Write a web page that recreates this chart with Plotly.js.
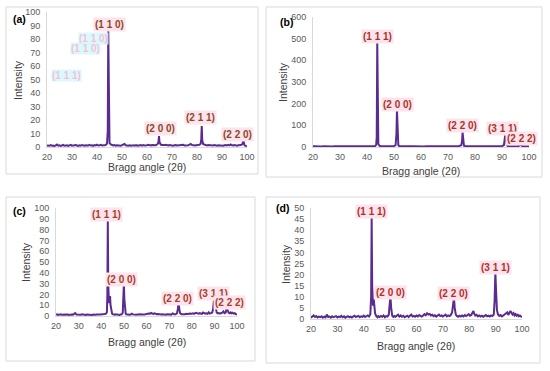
<!DOCTYPE html>
<html>
<head>
<meta charset="utf-8">
<script src="https://cdn.plot.ly/plotly-3.0.1.min.js"></script>
<style>html,body{margin:0;padding:0;background:#fff;}#chart{width:550px;height:371px;}</style>
</head>
<body>
<div id="chart"></div>
<script>
// ---- Data (2θ angle, intensity) ----
const xrdA = [[20,1.2],[20.5,0.8],[21,1.0],[21.5,1.4],[22,0.9],[22.5,1.1],[23,0.7],[23.5,1.3],[24,1.8],[24.5,1.0],[25,1.2],[25.5,0.8],[26,1.1],[26.5,1.5],[27,0.9],[27.5,1.0],[28,1.3],[28.5,0.8],[29,1.1],[29.5,1.6],[30,1.0],[30.5,1.2],[31,0.9],[31.5,1.4],[32,1.1],[32.5,0.8],[33,1.2],[33.5,1.0],[34,1.5],[34.5,1.1],[35,0.9],[35.5,1.3],[36,1.0],[36.5,1.2],[37,1.6],[37.5,1.1],[38,1.3],[38.5,0.9],[39,1.4],[39.5,1.2],[40,1.7],[40.5,1.1],[41,1.3],[41.5,1.6],[42,1.2],[42.5,1.4],[43,1.8],[43.5,1.5],[44,2.5],[44.3,12],[44.5,87],[44.7,14],[45,3],[45.5,2.0],[46,1.5],[46.5,1.2],[47,1.4],[47.5,1.0],[48,1.3],[48.5,1.1],[49,1.2],[49.5,0.9],[50,1.4],[50.5,1.6],[51,2.2],[51.5,1.3],[52,1.1],[52.5,1.0],[53,1.3],[53.5,0.9],[54,1.1],[54.5,1.2],[55,0.8],[55.5,1.0],[56,1.3],[56.5,0.9],[57,1.1],[57.5,1.4],[58,1.0],[58.5,1.5],[59,1.2],[59.5,1.1],[60,1.3],[60.5,1.6],[61,1.2],[61.5,1.1],[62,1.4],[62.5,1.2],[63,1.5],[63.5,1.3],[64,1.8],[64.4,2.6],[64.6,4],[64.8,8.1],[65.0,3.5],[65.5,1.8],[66,1.5],[66.5,1.2],[67,1.4],[67.5,1.6],[68,1.3],[68.5,1.1],[69,1.5],[69.5,1.2],[70,1.4],[70.5,1.0],[71,1.3],[71.5,1.5],[72,1.1],[72.5,1.2],[73,1.4],[73.5,1.0],[74,1.3],[74.5,1.6],[75,1.2],[75.5,1.1],[76,1.4],[76.5,1.3],[77,1.7],[77.5,2.2],[78,1.5],[78.5,1.3],[79,1.6],[79.5,1.2],[80,1.4],[80.5,1.3],[81,1.6],[81.5,2.5],[81.7,6],[81.9,15.6],[82.1,5],[82.5,2],[83,1.5],[83.5,1.3],[84,1.1],[84.5,1.4],[85,1.2],[85.5,1.0],[86,1.3],[86.5,1.1],[87,1.5],[87.5,1.2],[88,1.0],[88.5,1.3],[89,1.1],[89.5,1.4],[90,1.2],[90.5,0.9],[91,1.3],[91.5,1.5],[92,1.1],[92.5,1.6],[93,1.2],[93.5,1.9],[94,1.3],[94.5,1.1],[95,1.5],[95.5,1.2],[96,1.0],[96.5,1.3],[97,1.1],[97.5,1.4],[98,1.8],[98.3,3],[98.5,5.7],[98.7,2.5],[99,1.2],[99.5,0.8],[100,0.5]];

const xrdB = [[20,3],[21,2],[22,3],[23,2],[24,3],[25,2],[26,3],[27,2],[28,3],[29,3],[30,4],[31,3],[32,2],[33,3],[34,2],[35,3],[36,2],[37,3],[38,3],[39,2],[40,3],[41,3],[42,4],[43,5],[43.4,10],[43.6,45],[43.8,489],[44.0,70],[44.2,14],[44.6,6],[45,4],[46,3],[47,3],[48,2],[49,3],[50,4],[50.6,9],[50.9,60],[51.1,171],[51.3,45],[51.6,8],[52,4],[53,3],[54,3],[55,2],[56,3],[57,3],[58,2],[59,3],[60,3],[61,2],[62,3],[63,3],[64,2],[65,3],[66,3],[67,2],[68,3],[69,3],[70,2],[71,3],[72,3],[73,3],[74,4],[74.9,8],[75.2,25],[75.4,68],[75.6,22],[75.9,6],[76.5,4],[77,3],[78,3],[79,3],[80,2],[81,3],[82,3],[83,3],[84,2],[85,3],[86,3],[87,3],[88,3],[89,4],[90,4],[90.7,9],[91.0,40],[91.2,55],[91.35,42],[91.5,52],[91.7,12],[92.1,5],[93,4],[94,3],[95,3],[96,4],[96.6,8],[96.9,22],[97.1,9],[97.5,4],[98,3],[99,3],[100,3]];

const xrdC = [[20,1.2],[20.5,1.5],[21,1.0],[21.5,1.3],[22,1.6],[22.5,1.1],[23,1.4],[23.5,1.0],[24,1.3],[24.5,1.2],[25,1.5],[25.5,1.0],[26,1.3],[26.5,1.1],[27,1.4],[27.5,1.2],[28,1.6],[28.5,2.6],[29,1.3],[29.5,1.1],[30,1.4],[30.5,1.0],[31,1.2],[31.5,1.5],[32,1.1],[32.5,1.3],[33,1.0],[33.5,1.4],[34,1.2],[34.5,1.1],[35,1.5],[35.5,1.2],[36,1.0],[36.5,1.3],[37,1.6],[37.5,1.2],[38,1.4],[38.5,1.1],[39,1.5],[39.5,1.3],[40,1.6],[40.5,1.2],[41,1.5],[41.5,1.8],[42,2.0],[42.5,3.5],[42.7,20],[42.9,89],[43.1,30],[43.4,12],[43.7,17],[43.9,18.5],[44.1,10],[44.4,4],[44.8,2.2],[45.2,1.6],[45.5,1.4],[46,1.2],[46.5,1.5],[47,1.1],[47.5,1.3],[48,1.0],[48.5,1.4],[49,1.6],[49.5,3],[49.8,15],[50.0,30],[50.2,16],[50.5,3.5],[50.8,2],[51,1.6],[51.5,1.3],[52,1.5],[52.5,1.1],[53,1.4],[53.5,2.2],[54,1.5],[54.5,1.2],[55,1.4],[55.5,1.1],[56,1.3],[56.5,1.6],[57,1.2],[57.5,1.5],[58,1.3],[58.5,1.7],[59,1.4],[59.5,1.6],[60,2.0],[60.5,1.8],[61,2.4],[61.5,2.2],[62,2.8],[62.5,2.3],[63,2.0],[63.5,2.5],[64,1.8],[64.5,1.6],[65,1.9],[65.5,1.5],[66,1.7],[66.5,1.4],[67,1.6],[67.5,1.3],[68,1.5],[68.5,1.2],[69,1.6],[69.5,1.4],[70,1.8],[70.5,1.5],[71,1.3],[71.5,2.4],[72,1.6],[72.5,1.4],[73,1.7],[73.5,2.5],[73.9,7],[74.2,14],[74.5,6],[74.9,2.4],[75.5,1.7],[76,1.5],[76.5,1.8],[77,1.6],[77.5,2.0],[78,1.7],[78.5,1.9],[79,2.2],[79.5,1.8],[80,2.1],[80.5,2.4],[81,2.0],[81.5,2.6],[82,3.0],[82.5,2.4],[83,2.1],[83.5,2.6],[84,2.3],[84.5,2.0],[85,3.2],[85.5,2.4],[86,2.1],[86.5,2.5],[87,2.0],[87.5,3.4],[88,2.2],[88.5,2.6],[89,3.0],[89.4,6],[89.7,14],[90.0,19],[90.3,13],[90.6,6],[91,3.2],[91.5,2.4],[92,2.8],[92.5,2.2],[93,2.6],[93.5,3.0],[94,4.2],[94.5,2.6],[95,3.2],[95.3,6],[95.6,9.5],[95.9,5],[96.3,3.0],[96.8,2.5],[97.2,3.4],[97.6,2.6],[98,3.0],[98.5,2.2],[99,2.6],[99.5,1.8],[100,1.2]];

const xrdD = [[20,0.6],[20.5,1.2],[21,1.6],[21.5,0.9],[22,1.3],[22.5,0.7],[23,1.1],[23.5,0.8],[24,1.2],[24.5,0.6],[25,1.0],[25.5,0.7],[26,2.0],[26.5,0.9],[27,1.1],[27.5,0.6],[28,1.2],[28.5,0.8],[29,1.0],[29.5,1.3],[30,0.7],[30.5,1.1],[31,0.9],[31.5,1.4],[32,0.8],[32.5,1.2],[33,0.6],[33.5,1.0],[34,1.3],[34.5,0.8],[35,1.1],[35.5,0.7],[36,1.2],[36.5,1.5],[37,0.9],[37.5,1.1],[38,1.4],[38.5,0.8],[39,1.2],[39.5,1.0],[40,1.5],[40.5,0.9],[41,1.3],[41.5,1.6],[42,1.1],[42.5,2.2],[42.8,10],[43.0,45.8],[43.2,15],[43.5,6],[43.8,8.9],[44.0,7],[44.3,2.5],[44.8,1.2],[45.2,0.8],[45.5,1.3],[46,0.9],[46.5,1.4],[47,1.0],[47.5,1.6],[48,0.8],[48.5,1.3],[49,1.1],[49.5,2.0],[49.8,6],[50.1,10.4],[50.4,5],[50.8,1.4],[51.2,0.9],[51.6,1.3],[52,1.0],[52.5,1.5],[53,1.9],[53.5,1.1],[54,1.6],[54.5,1.0],[55,1.4],[55.5,0.8],[56,1.2],[56.5,1.5],[57,0.9],[57.5,1.3],[58,2.0],[58.5,1.1],[59,1.4],[59.5,1.0],[60,1.6],[60.5,1.2],[61,1.8],[61.5,1.4],[62,1.1],[62.5,1.6],[63,2.2],[63.5,1.7],[64,2.6],[64.5,2.0],[65,2.3],[65.5,1.6],[66,1.9],[66.5,1.3],[67,1.7],[67.5,1.1],[68,1.5],[68.5,2.0],[69,1.3],[69.5,1.6],[70,1.1],[70.5,1.4],[71,2.0],[71.5,1.2],[72,1.6],[72.5,1.3],[73,1.8],[73.5,3.0],[73.9,6],[74.2,9.6],[74.5,5],[74.9,2.0],[75.3,1.4],[75.8,1.0],[76.3,1.5],[76.8,1.1],[77.3,1.6],[77.8,1.2],[78.3,1.8],[78.8,1.3],[79.3,1.7],[79.8,2.2],[80.3,1.5],[80.8,1.8],[81.3,3.0],[81.6,3.6],[81.9,2.4],[82.3,1.5],[82.8,1.9],[83.3,1.2],[83.8,1.6],[84.3,1.1],[84.8,1.5],[85.3,1.0],[85.8,1.4],[86.3,1.8],[86.8,1.2],[87.3,1.5],[87.8,1.1],[88.3,1.6],[88.8,1.3],[89.3,2.0],[89.6,8],[89.9,21],[90.2,12],[90.5,4],[90.9,2.0],[91.4,1.4],[91.9,1.8],[92.4,1.2],[92.9,1.6],[93.4,2.0],[93.9,2.4],[94.4,3.0],[94.8,1.8],[95.2,2.6],[95.6,3.6],[96.0,2.8],[96.4,2.0],[96.8,2.6],[97.2,1.6],[97.6,2.2],[98.0,1.5],[98.4,1.9],[98.8,1.2],[99.2,1.6],[99.6,1.0],[100,0.8]];

// Peak labels: [text, angle, intensity]
const labelsA = [["(1 1 0)",44.8,91],["(2 0 0)",65.2,14],["(2 1 1)",81.2,21.5],["(2 2 0)",96.3,9]];
const labelsB = [["(1 1 1)",43.8,512],["(2 0 0)",51.4,198],["(2 2 0)",75.3,97],["(3 1 1)",90.0,87],["(2 2 2)",97.4,40]];
const labelsC = [["(1 1 1)",42.4,94],["(2 0 0)",49.0,34],["(2 2 0)",73.6,16],["(3 1 1)",89.5,21],["(2 2 2)",96.9,12.3]];
const labelsD = [["(1 1 1)",42.9,48.3],["(2 0 0)",50.2,12],["(2 2 0)",74.0,11.4],["(3 1 1)",90.1,23.1]];
// faint ghost labels visible in panel (a)
const ghostA = [["(1 1 0)",38.4,80.7],["(1 1 0)",35.2,72.6],["(1 1 1)",27.6,52.6]];

const panelNames = ["(a)","(b)","(c)","(d)"];
const xTicks = [20,30,40,50,60,70,80,90,100];
const yRanges = [[0,100],[0,600],[0,100],[0,50]];
const yDtick = [10,100,10,5];

// ---- Layout geometry (pixels) ----
const W = 550, H = 371;
const plotPx = [ // [x0,x1,yTop,yBottom]
  [47,247,12,147],
  [313,529,17,147],
  [56,237,208,316],
  [311,522,208,319]
];
const boxPx = [[6,258,7,174],[266,542,7,177],[6,255,197,361],[266,540,197,363]];
const namePx = [[19,19],[286,22],[19,211],[282,208]];
const yTitlePx = [[18,80],[283,82],[26,262],[286,264]];
const xTitlePx = [[147,167],[421,171],[147,342],[416,346]];

const datasets = [xrdA,xrdB,xrdC,xrdD];
const labelSets = [labelsA,labelsB,labelsC,labelsD];
const lineColor = "#5b2c8f";
const labelColors = ["#8a4a1c","#a8361f","#a8401f","#b3301f"];
const fontFam = "Liberation Sans, Arial, sans-serif";

const traces = [];
const layout = {
  width: W, height: H, autosize: false,
  margin: {l:0,r:0,t:0,b:0},
  paper_bgcolor: "#ffffff", plot_bgcolor: "rgba(0,0,0,0)",
  showlegend: false,
  annotations: [], shapes: []
};

const px2x = p => p / W;
const px2y = p => 1 - p / H;

datasets.forEach((d, i) => {
  const n = i === 0 ? "" : String(i + 1);
  traces.push({
    type: "scatter", mode: "lines",
    x: d.map(p => p[0]), y: d.map(p => p[1]),
    xaxis: "x" + n, yaxis: "y" + n,
    line: {color: lineColor, width: 2},
    hoverinfo: "skip"
  });
  const g = plotPx[i];
  layout["xaxis" + n] = {
    domain: [px2x(g[0]), px2x(g[1])], anchor: "y" + n,
    range: [20, 100], tickvals: xTicks, ticks: "",
    showgrid: false, zeroline: false, showline: true, linecolor: "#d9d9d9", linewidth: 1,
    tickfont: {family: fontFam, size: 9, color: "#595959"}, ticklabelstandoff: 1, fixedrange: true
  };
  layout["yaxis" + n] = {
    domain: [px2y(g[3]), px2y(g[2])], anchor: "x" + n,
    range: yRanges[i], dtick: yDtick[i], tick0: 0, ticks: "",
    showgrid: false, zeroline: false, showline: true, linecolor: "#d9d9d9", linewidth: 1,
    tickfont: {family: fontFam, size: 9, color: "#595959"}, ticklabelstandoff: 4, fixedrange: true
  };
  const b = boxPx[i];
  layout.shapes.push({type: "rect", xref: "paper", yref: "paper",
    x0: px2x(b[0]), x1: px2x(b[1]), y0: px2y(b[3]), y1: px2y(b[2]),
    line: {color: "#d9d9d9", width: 1}, fillcolor: "rgba(0,0,0,0)", layer: "below"});
  layout.annotations.push({text: "<b>" + panelNames[i] + "</b>", xref: "paper", yref: "paper",
    x: px2x(namePx[i][0]), y: px2y(namePx[i][1]), xanchor: "center", yanchor: "middle", showarrow: false,
    font: {family: fontFam, size: 10.5, color: "#000"}});
  layout.annotations.push({text: "Intensity", xref: "paper", yref: "paper", textangle: -90,
    x: px2x(yTitlePx[i][0]), y: px2y(yTitlePx[i][1]), xanchor: "center", yanchor: "middle", showarrow: false,
    font: {family: fontFam, size: 10.5, color: "#404040"}});
  layout.annotations.push({text: "Bragg angle (2θ)", xref: "paper", yref: "paper",
    x: px2x(xTitlePx[i][0]), y: px2y(xTitlePx[i][1]), xanchor: "center", yanchor: "middle", showarrow: false,
    font: {family: fontFam, size: 10.5, color: "#404040"}});
  labelSets[i].forEach(l => {
    layout.annotations.push({text: "<b>" + l[0] + "</b>", xref: "x" + n, yref: "y" + n, x: l[1], y: l[2],
      xanchor: "center", yanchor: "middle", showarrow: false, bgcolor: "#fde3ee", borderpad: 1,
      font: {family: fontFam, size: 10, color: labelColors[i]}});
  });
});

ghostA.forEach(l => {
  layout.annotations.push({text: "<b>" + l[0] + "</b>", xref: "x", yref: "y", x: l[1], y: l[2],
    xanchor: "center", yanchor: "middle", showarrow: false, bgcolor: "#d4f8fc", borderpad: 0, opacity: 0.85,
    font: {family: fontFam, size: 10, color: "#f4b6d2"}});
});

Plotly.newPlot("chart", traces, layout, {displayModeBar: false, staticPlot: true});
</script>
</body>
</html>
